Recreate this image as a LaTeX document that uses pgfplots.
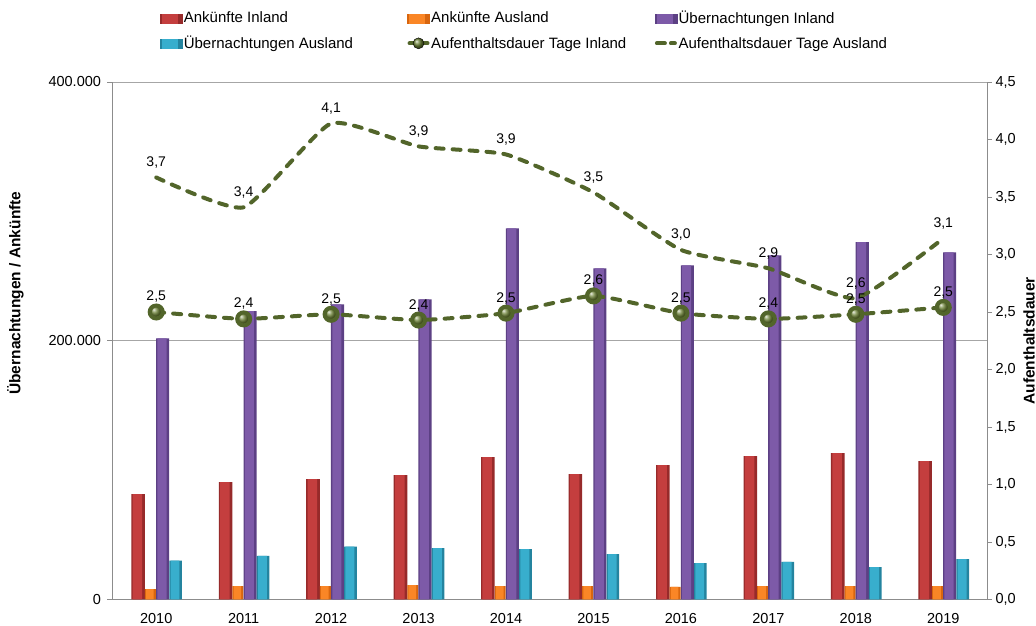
\documentclass[border=0pt]{standalone}
\usepackage{fontspec}
\setmainfont{Liberation Sans}
\usepackage{pgfplots}
\usepackage{pgfplotstable}
\pgfplotsset{compat=1.18}
\definecolor{axisgray}{HTML}{8C8C8C}
\definecolor{gridgray}{HTML}{A6A6A6}
\definecolor{redM}{HTML}{C43E3E}
\definecolor{redR}{HTML}{972A2A}
\definecolor{orM}{HTML}{FA8626}
\definecolor{orR}{HTML}{D8660F}
\definecolor{puM}{HTML}{7D5AA8}
\definecolor{puR}{HTML}{5C4084}
\definecolor{cyM}{HTML}{38AECD}
\definecolor{cyR}{HTML}{24849F}
\definecolor{olive}{HTML}{52652A}
\definecolor{ballc}{HTML}{6A8034}
\pgfdeclareplotmark{ballmark}{\shade[ball color=ballc] (0pt,0pt) circle (\pgfplotmarksize);}

\pgfplotstableread{
x ai aa ui ua
0 81500 8100 201900 30000
1 90700 10400 222800 33800
2 93000 10400 228200 40800
3 96100 11200 232000 39800
4 110000 10400 286900 39000
5 96900 10400 256000 35100
6 103900 9700 258300 28200
7 110800 10400 266000 29000
8 113100 10400 276300 25100
9 107000 10400 268300 31300
}\bardata

\pgfplotstableread{
x inl aus
0 2.50 3.67
1 2.44 3.41
2 2.48 4.14
3 2.43 3.94
4 2.49 3.87
5 2.64 3.54
6 2.49 3.04
7 2.44 2.88
8 2.48 2.62
9 2.54 3.14
}\linedata

\pgfplotsset{
  /pgf/number format/assume math mode=true,
}

\begin{document}
\begin{tikzpicture}
\useasboundingbox (0,0) rectangle (1036pt,626pt);
\begin{axis}[
  at={(112.5pt,26.5pt)}, anchor=south west,
  width=874.5pt, height=517.5pt, scale only axis,
  xmin=-0.5, xmax=9.5, ymin=0, ymax=400000,
  scaled y ticks=false,
  xtick={0,1,2,3,4,5,6,7,8,9},
  xticklabels={2010,2011,2012,2013,2014,2015,2016,2017,2018,2019},
  ytick={0,200000,400000},
  yticklabels={0,200.000,400.000},
  axis x line*=bottom, axis y line*=left,
  ymajorgrids, grid style={color=gridgray, line width=0.8pt},
  axis line style={draw=axisgray, line width=0.8pt},
  tick align=outside, major tick length=5pt,
  tick style={color=axisgray, line width=0.8pt},
  xtick style={draw=none},
  tick label style={font=\fontsize{14.5}{16}\selectfont},
  xticklabel style={yshift=-5pt},
  yticklabel style={xshift=-3pt},
  ylabel={Übernachtungen / Ankünfte},
  ylabel style={at={(rel axis cs:-0.111,0.592)}, anchor=center, font=\fontsize{15.5}{17}\selectfont\bfseries},
]
\addplot[ybar, fill=redR, draw=none, bar width=0.155, bar shift=-0.207] table[x=x,y=ai]{\bardata};
\addplot[ybar, fill=redM, draw=none, bar width=0.1085, bar shift=-0.2148] table[x=x,y=ai]{\bardata};
\addplot[ybar, fill=orR, draw=none, bar width=0.125, bar shift=-0.066] table[x=x,y=aa]{\bardata};
\addplot[ybar, fill=orM, draw=none, bar width=0.0875, bar shift=-0.0723] table[x=x,y=aa]{\bardata};
\addplot[ybar, fill=puR, draw=none, bar width=0.15, bar shift=0.073] table[x=x,y=ui]{\bardata};
\addplot[ybar, fill=puM, draw=none, bar width=0.105, bar shift=0.0655] table[x=x,y=ui]{\bardata};
\addplot[ybar, fill=cyR, draw=none, bar width=0.145, bar shift=0.222] table[x=x,y=ua]{\bardata};
\addplot[ybar, fill=cyM, draw=none, bar width=0.1015, bar shift=0.2148] table[x=x,y=ua]{\bardata};
\end{axis}
\begin{axis}[
  at={(112.5pt,26.5pt)}, anchor=south west,
  width=874.5pt, height=517.5pt, scale only axis,
  xmin=-0.5, xmax=9.5, ymin=0, ymax=4.5,
  axis x line=none, axis y line*=right,
  ytick={0,0.5,1,1.5,2,2.5,3,3.5,4,4.5},
  yticklabels={{0,0},{0,5},{1,0},{1,5},{2,0},{2,5},{3,0},{3,5},{4,0},{4,5}},
  axis line style={draw=axisgray, line width=0.8pt},
  tick align=outside, major tick length=5pt,
  tick style={color=axisgray, line width=0.8pt},
  tick label style={font=\fontsize{14.5}{16}\selectfont},
  ylabel={Aufenthaltsdauer},
  ylabel style={at={(rel axis cs:1.048,0.5)}, anchor=center, font=\fontsize{15.5}{17}\selectfont\bfseries},
  clip=false,
  legend columns=3,
  legend style={at={(rel axis cs:0.054,1.140)}, anchor=north west, draw=none, fill=none,
    font=\fontsize{15}{17}\selectfont, inner sep=0pt, column sep=0pt, row sep=8pt,
    nodes={inner sep=1.5pt}},
  legend cell align=left,
  nodes near coords={\pgfmathprintnumber[fixed,fixed zerofill,precision=1,use comma]{\pgfplotspointmeta}},
  every node near coord/.append style={font=\fontsize{14}{16}\selectfont, text=black, anchor=base, yshift=11pt, inner sep=0pt},
]
\addlegendimage{legend image code/.code={\fill[redR] (0pt,-4.5pt) rectangle (22pt,4.5pt); \fill[redM] (2pt,-4.5pt) rectangle (17pt,4.5pt);}}
\addlegendentry{\makebox[222pt][l]{Ankünfte Inland}}
\addlegendimage{legend image code/.code={\fill[orR] (0pt,-4.5pt) rectangle (22pt,4.5pt); \fill[orM] (2pt,-4.5pt) rectangle (17pt,4.5pt);}}
\addlegendentry{\makebox[222pt][l]{Ankünfte Ausland}}
\addlegendimage{legend image code/.code={\fill[puR] (0pt,-4.5pt) rectangle (22pt,4.5pt); \fill[puM] (2pt,-4.5pt) rectangle (17pt,4.5pt);}}
\addlegendentry{\makebox[222pt][l]{Übernachtungen Inland}}
\addlegendimage{legend image code/.code={\fill[cyR] (0pt,-4.5pt) rectangle (22pt,4.5pt); \fill[cyM] (2pt,-4.5pt) rectangle (17pt,4.5pt);}}
\addlegendentry{\makebox[222pt][l]{Übernachtungen Ausland}}
\addlegendimage{legend image code/.code={\draw[olive, line width=4pt, line cap=round] (2pt,0pt)--(6pt,0pt); \draw[olive, line width=4pt, line cap=round] (16pt,0pt)--(20pt,0pt); \shade[ball color=ballc] (11pt,0pt) circle (5.5pt);}}
\addlegendentry{\makebox[222pt][l]{Aufenthaltsdauer Tage Inland}}
\addlegendimage{legend image code/.code={\draw[olive, line width=4pt, line cap=round] (2pt,0pt)--(10pt,0pt); \draw[olive, line width=4pt, line cap=round] (16pt,0pt)--(20pt,0pt);}}
\addlegendentry{\makebox[222pt][l]{Aufenthaltsdauer Tage Ausland}}

\addplot[olive, line width=4pt, line cap=round, dash pattern=on 8pt off 9pt, smooth, tension=0.3,
  mark=ballmark, mark size=6.5pt, mark options={solid}, forget plot] table[x=x,y=inl]{\linedata};
\addplot[olive, line width=4pt, line cap=round, dash pattern=on 8pt off 9pt, smooth, tension=0.3, forget plot] table[x=x,y=aus]{\linedata};
\end{axis}
\end{tikzpicture}
\end{document}
